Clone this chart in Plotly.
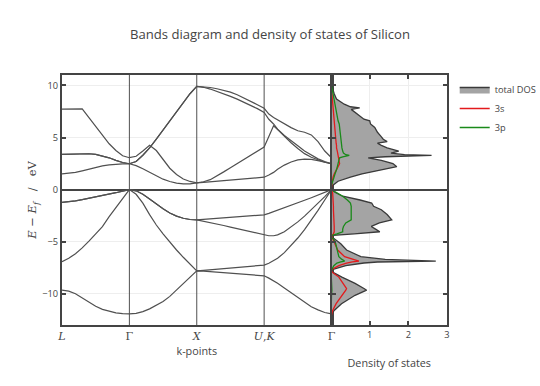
import plotly.graph_objects as go

# ---------------- k-path ----------------
kpoint_labels = ["<i>L</i>", "Γ", "<i>X</i>", "<i>U</i>,<i>K</i>", "Γ"]
kpoint_positions = [0, 1, 2, 3, 4]
seg_t = [0, 0.1, 0.2, 0.3, 0.4, 0.5, 0.6, 0.7, 0.8, 0.9, 1.0]
last_seg_t = [0, 0.07, 0.14, 0.2, 0.3, 0.4, 0.5, 0.6, 0.7, 0.8, 0.9, 1.0]

kpath = ([0 + t for t in seg_t] + [1 + t for t in seg_t[1:]]
         + [2 + t for t in seg_t[1:]] + [3 + t for t in last_seg_t[1:]])

# ---------------- bands (eV), L-G | G-X | X-UK | UK-G ----------------
band1 = [-9.66, -9.75, -10.0, -10.4, -10.85, -11.2, -11.5, -11.7, -11.83, -11.9, -11.93,
         -11.88, -11.72, -11.45, -11.1, -10.75, -10.25, -9.65, -9.05, -8.42, -7.8,
         -7.83, -7.88, -7.93, -7.98, -8.03, -8.08, -8.13, -8.18, -8.23, -8.28,
         -8.5, -8.75, -9.0, -9.45, -9.9, -10.4, -10.85, -11.25, -11.55, -11.8, -11.93]
band2 = [-6.92, -6.6, -6.15, -5.6, -4.95, -4.3, -3.55, -2.6, -1.75, -0.88, 0.0,
         -0.45, -1.3, -2.4, -3.4, -4.25, -5.05, -5.8, -6.5, -7.15, -7.8,
         -7.75, -7.69, -7.64, -7.58, -7.53, -7.47, -7.42, -7.36, -7.31, -7.25,
         -7.08, -6.85, -6.6, -6.05, -5.4, -4.65, -3.85, -2.95, -2.0, -1.0, 0.0]
band3 = [-1.22, -1.17, -1.08, -0.97, -0.85, -0.72, -0.58, -0.44, -0.3, -0.15, 0.0,
         -0.12, -0.45, -0.9, -1.4, -1.85, -2.25, -2.55, -2.75, -2.87, -2.9,
         -3.02, -3.15, -3.3, -3.45, -3.6, -3.75, -3.9, -4.05, -4.2, -4.35,
         -4.43, -4.43, -4.35, -4.05, -3.6, -3.1, -2.55, -1.95, -1.32, -0.67, 0.0]
band4 = [-1.22, -1.17, -1.08, -0.97, -0.85, -0.72, -0.58, -0.44, -0.3, -0.15, 0.0,
         -0.12, -0.45, -0.9, -1.4, -1.85, -2.25, -2.55, -2.75, -2.87, -2.9,
         -2.85, -2.8, -2.76, -2.71, -2.66, -2.61, -2.56, -2.52, -2.47, -2.42,
         -2.28, -2.12, -2.0, -1.77, -1.53, -1.28, -1.03, -0.78, -0.52, -0.26, 0.0]
band5 = [1.5, 1.55, 1.65, 1.8, 1.97, 2.13, 2.27, 2.37, 2.44, 2.47, 2.48,
         2.3, 2.0, 1.65, 1.3, 1.0, 0.78, 0.62, 0.55, 0.55, 0.65,
         0.75, 0.95, 1.3, 1.7, 2.1, 2.5, 2.88, 3.25, 3.65, 4.09,
         5.1, 6.12, 5.75, 5.1, 4.5, 3.95, 3.45, 3.1, 2.85, 2.62, 2.48]
band6 = [7.73, 7.75, 7.78, 7.75, 6.9, 6.05, 5.2, 4.4, 3.75, 3.25, 3.06,
         3.2, 3.7, 4.25, 3.75, 2.85, 2.05, 1.45, 1.02, 0.78, 0.65,
         0.70, 0.76, 0.81, 0.87, 0.92, 0.97, 1.03, 1.08, 1.14, 1.19,
         1.4, 1.65, 1.95, 2.35, 2.65, 2.85, 2.92, 2.9, 2.78, 2.62, 2.48]
band7 = [3.38, 3.4, 3.42, 3.44, 3.44, 3.38, 3.25, 3.05, 2.8, 2.6, 2.48,
         2.7, 3.3, 4.0, 4.85, 5.7, 6.55, 7.4, 8.25, 9.2, 9.9,
         9.82, 9.65, 9.43, 9.2, 8.95, 8.68, 8.4, 8.1, 7.77, 7.41,
         6.75, 6.3, 5.8, 5.2, 4.73, 4.2, 3.7, 3.3, 2.95, 2.7, 2.48]
band8 = [3.38, 3.4, 3.42, 3.44, 3.44, 3.38, 3.25, 3.05, 2.8, 2.6, 2.48,
         2.7, 3.3, 4.0, 4.85, 5.7, 6.55, 7.4, 8.25, 9.2, 9.9,
         9.88, 9.8, 9.68, 9.52, 9.35, 9.1, 8.8, 8.5, 8.15, 7.8,
         7.25, 6.92, 6.7, 6.3, 5.95, 5.65, 5.5, 5.25, 4.6, 3.7, 3.06]
bands = [band1, band2, band3, band4, band5, band6, band7, band8]

# ---------------- density of states ----------------
dos_energy = [10.2, 9.8, 9.2, 8.7, 8.2, 7.95, 7.85, 7.7, 7.25, 6.76, 6.6, 6.3, 5.96, 5.5,
              5.15, 4.83, 4.6, 4.45, 4.25, 4.0, 3.7, 3.5, 3.35, 3.28, 3.15, 3.05, 2.8,
              2.5, 2.2, 1.9, 1.5, 1.2, 0.8, 0.4, 0.1, 0.0,
              -0.3, -0.64, -1.0, -1.29, -1.6, -1.93, -2.4, -2.9, -3.2, -3.54, -3.8,
              -4.05, -4.25, -4.4, -4.55, -4.8, -5.2, -5.8, -6.44, -6.7, -6.86, -6.95,
              -7.05, -7.3, -7.65, -7.8, -7.95, -8.4, -9.0, -9.5, -9.66, -10.15, -10.95,
              -11.6, -11.93, -12.2]
dos_total = [0.0, 0.03, 0.08, 0.14, 0.34, 0.5, 0.74, 0.52, 0.69, 0.85, 1.0, 1.02, 1.13, 1.2,
             1.28, 1.35, 1.45, 1.2, 1.3, 1.45, 1.75, 1.55, 1.9, 2.6, 1.4, 0.96, 1.3,
             1.6, 1.7, 1.3, 0.8, 0.5, 0.18, 0.04, 0.0, 0.0,
             0.12, 0.3, 0.75, 1.05, 1.1, 1.3, 1.45, 1.57, 1.25, 1.04, 1.15,
             1.26, 0.6, 0.05, 0.02, 0.12, 0.25, 0.4, 0.77, 1.4, 2.71, 1.2,
             0.85, 0.38, 0.05, 0.01, 0.05, 0.28, 0.62, 0.85, 0.92, 0.62, 0.27,
             0.08, 0.02, 0.0]
dos_3s = [0.0, 0.0, 0.02, 0.03, 0.04, 0.05, 0.05, 0.05, 0.06, 0.07, 0.08, 0.08, 0.09, 0.1,
          0.11, 0.12, 0.12, 0.13, 0.14, 0.14, 0.16, 0.17, 0.18, 0.18, 0.18, 0.18, 0.2,
          0.22, 0.18, 0.13, 0.08, 0.05, 0.03, 0.01, 0.0, 0.0,
          0.04, 0.05, 0.05, 0.06, 0.06, 0.06, 0.07, 0.07, 0.07, 0.08, 0.08,
          0.08, 0.06, 0.02, 0.02, 0.05, 0.1, 0.17, 0.35, 0.6, 0.72, 0.55,
          0.4, 0.2, 0.03, 0.0, 0.04, 0.2, 0.3, 0.4, 0.38, 0.28, 0.13,
          0.04, 0.01, 0.0]
dos_3p = [0.0, 0.02, 0.05, 0.07, 0.1, 0.12, 0.12, 0.12, 0.14, 0.17, 0.18, 0.21, 0.22, 0.23,
          0.24, 0.25, 0.26, 0.27, 0.26, 0.28, 0.3, 0.32, 0.38, 0.47, 0.3, 0.22, 0.2,
          0.18, 0.17, 0.14, 0.1, 0.07, 0.04, 0.01, 0.0, 0.0,
          0.15, 0.3, 0.42, 0.5, 0.52, 0.52, 0.52, 0.52, 0.38, 0.32, 0.3,
          0.3, 0.15, 0.02, 0.0, 0.07, 0.12, 0.15, 0.2, 0.28, 0.35, 0.25,
          0.15, 0.07, 0.01, 0.0, 0.0, 0.01, 0.02, 0.02, 0.02, 0.01, 0.0,
          0.0, 0.0, 0.0]

AX = "#444444"
BAND = "#505050"
fig = go.Figure()
for b in bands:
    fig.add_trace(go.Scatter(x=kpath, y=b, mode="lines", line=dict(color=BAND, width=1.2),
                             showlegend=False, hoverinfo="skip", xaxis="x", yaxis="y"))

fig.add_trace(go.Scatter(x=dos_total, y=dos_energy, mode="lines", name="total DOS",
                         fill="tozerox", fillcolor="#a4a4a4",
                         line=dict(color="#3a3a3a", width=1.3), xaxis="x2", yaxis="y2"))
fig.add_trace(go.Scatter(x=dos_3s, y=dos_energy, mode="lines", name="3s",
                         line=dict(color="#e31a1c", width=1.3), xaxis="x2", yaxis="y2"))
fig.add_trace(go.Scatter(x=dos_3p, y=dos_energy, mode="lines", name="3p",
                         line=dict(color="#1a8a1a", width=1.3), xaxis="x2", yaxis="y2"))

shapes = [dict(type="line", xref="x", yref="y domain", x0=k, x1=k, y0=0, y1=1,
               line=dict(color=BAND, width=1), layer="above")
          for k in kpoint_positions[1:-1]]

common = dict(showline=True, linewidth=2, linecolor=AX, gridcolor="#eeeeee", automargin=False)

fig.update_layout(
    template="none",
    width=540, height=386,
    margin=dict(l=62, r=93, t=75, b=61, autoexpand=False),
    paper_bgcolor="white", plot_bgcolor="white",
    font=dict(family="Open Sans", size=9.25, color=AX),
    title=dict(text="Bands diagram and density of states of Silicon", x=0.5, xanchor="center",
               y=0.912, yanchor="middle", font=dict(size=13.1, color=AX)),
    showlegend=True,
    legend=dict(x=1.02, y=1, xanchor="left", yanchor="top", font=dict(size=9.25),
                bgcolor="rgba(0,0,0,0)"),
    shapes=shapes,
    xaxis=dict(domain=[0, 0.7], range=[0, 4], tickmode="array", tickvals=kpoint_positions,
               ticktext=kpoint_labels, ticks="", mirror=True, zeroline=False, showgrid=False,
               tickfont=dict(family="DejaVu Serif", size=11, color=AX),
               title=dict(text="k-points", font=dict(size=10.8), standoff=5), **common),
    yaxis=dict(range=[-13, 11], tickvals=[-10, -5, 0, 5, 10], ticks="inside", ticklen=4,
               tickwidth=2, tickcolor=AX, mirror="ticks", zeroline=True, zerolinewidth=2,
               zerolinecolor=AX, showgrid=True,
               title=dict(text="<i>E</i> − <i>E<sub>f</sub></i>\u00a0\u00a0\u00a0/\u00a0\u00a0\u00a0eV",
                          font=dict(family="DejaVu Serif", size=11.5), standoff=3),
               **common),
    xaxis2=dict(domain=[0.7, 1], range=[0.01, 3], anchor="y2", tickvals=[1, 2, 3],
                ticks="inside", ticklen=4, tickwidth=2, tickcolor=AX, mirror="ticks",
                zeroline=False, showgrid=True,
                title=dict(text="Density of states", font=dict(size=10.8), standoff=19),
                **common),
    yaxis2=dict(range=[-13, 11], anchor="x2", tickvals=[-10, -5, 0, 5, 10],
                showticklabels=False, ticks="inside", ticklen=4, tickwidth=2, tickcolor=AX,
                mirror="ticks", zeroline=True, zerolinewidth=2, zerolinecolor=AX,
                showgrid=True, **common),
)

fig.write_html("out.html", config={"displayModeBar": False},
               post_script="document.body.style.margin='0px';")
